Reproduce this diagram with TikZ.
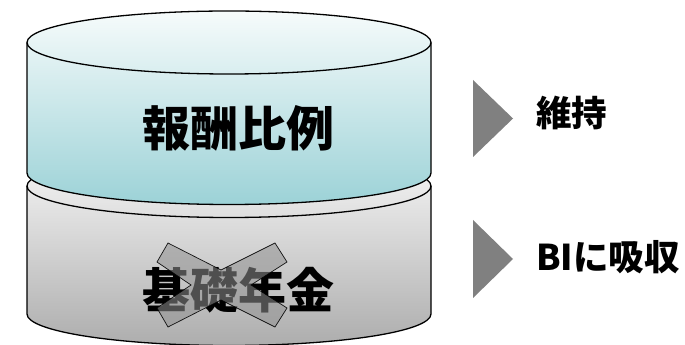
\documentclass[tikz,border=0pt]{standalone}
\usepackage{fontspec}
\newfontfamily\cjk{Noto Sans CJK JP}
\definecolor{cyantop}{HTML}{F6FBFB}
\definecolor{cyanbot}{HTML}{9CD2D7}
\definecolor{graytop}{HTML}{F7F7F7}
\definecolor{graybot}{HTML}{ADADAD}
\definecolor{trigray}{HTML}{808080}
\definecolor{xgray}{HTML}{919191}
\tikzset{
  cylline/.style={draw=black, line width=1.3pt},
  bigtext/.style={font=\cjk\bfseries\fontsize{48}{50}\selectfont, inner sep=0pt},
  sidetext/.style={font=\cjk\bfseries\fontsize{35.5}{37}\selectfont, inner sep=0pt, anchor=west},
  pointer/.style={fill=trigray, draw=none},
  cross/.style={fill=xgray, fill opacity=0.55, draw=black, line width=0.7pt, draw opacity=0.9}
}
\begin{document}
\begin{tikzpicture}[x=1pt,y=1pt]
\useasboundingbox[fill=white] (0,0) rectangle (685,345);
% bottom cylinder
\shade[top color=graytop, bottom color=graybot]
  (27,159) arc[start angle=180, end angle=0, x radius=202, y radius=31.5]
  -- (431,31) arc[start angle=0, end angle=-180, x radius=202, y radius=31.5] -- cycle;
\draw[cylline]
  (27,159) arc[start angle=180, end angle=0, x radius=202, y radius=31.5]
  -- (431,31) arc[start angle=0, end angle=-180, x radius=202, y radius=31.5] -- cycle;
\draw[cylline] (27,159) arc[start angle=180, end angle=360, x radius=202, y radius=31.5];
% top cylinder
\shade[top color=cyantop, bottom color=cyanbot]
  (27,302.5) arc[start angle=180, end angle=0, x radius=202, y radius=31.5]
  -- (431,172) arc[start angle=0, end angle=-180, x radius=202, y radius=31.5] -- cycle;
\draw[cylline]
  (27,302.5) arc[start angle=180, end angle=0, x radius=202, y radius=31.5]
  -- (431,172) arc[start angle=0, end angle=-180, x radius=202, y radius=31.5] -- cycle;
\draw[cylline] (27,302.5) arc[start angle=180, end angle=360, x radius=202, y radius=31.5];
% texts
\node[bigtext] (upper) at (238,216.5) {報酬比例};
\node[bigtext] (lower) at (238,55) {基礎年金};
% cross
\draw[cross] (168,102) -- (221,75) -- (275,102) -- (287,83) -- (251,60) -- (287,37)
  -- (275,18) -- (221,45) -- (168,18) -- (157,37) -- (191,60) -- (157,83) -- cycle;
% pointers
\fill[pointer] (473,265) -- (513,226.5) -- (473,188) -- cycle;
\fill[pointer] (473,125) -- (513,86) -- (473,47) -- cycle;
\node[sidetext] (keep) at (536,232) {維持};
\node[sidetext] (absorb) at (536,87.5) {BIに吸収};
\end{tikzpicture}
\end{document}
